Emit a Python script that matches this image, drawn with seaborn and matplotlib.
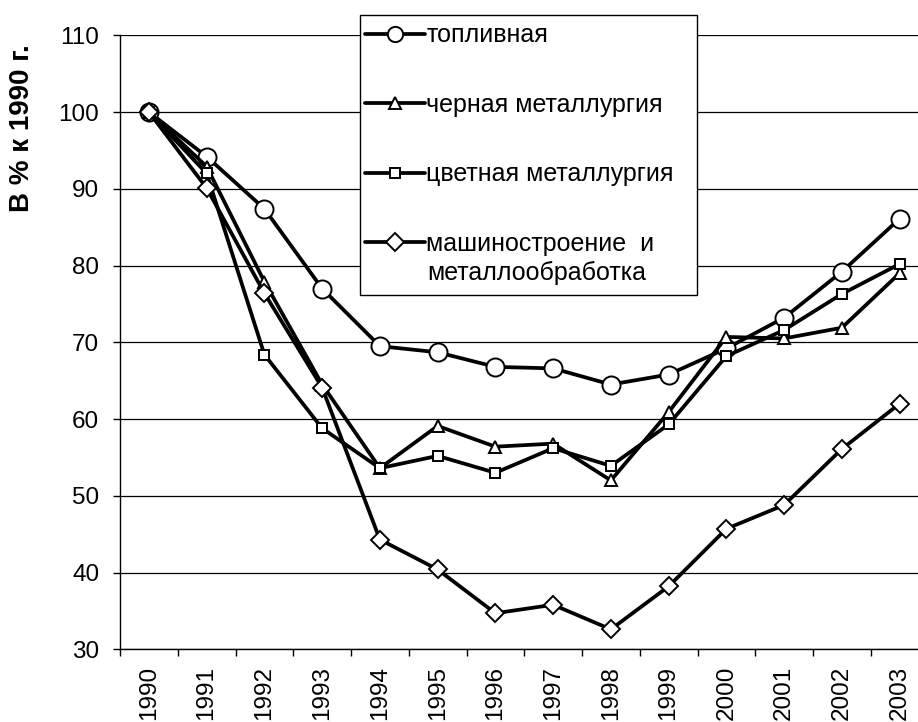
import numpy as np
import pandas as pd
import matplotlib
matplotlib.use("Agg")
import matplotlib.pyplot as plt
from matplotlib.patches import Rectangle
import seaborn as sns

years = ["1990", "1991", "1992", "1993", "1994", "1995", "1996",
         "1997", "1998", "1999", "2000", "2001", "2002", "2003"]
fuel = [100, 94.2, 87.4, 77.0, 69.5, 68.7, 66.8, 66.6, 64.5, 65.8, 69.2, 73.2, 79.2, 86.1]
ferrous = [100, 92.9, 77.9, 64.5, 53.6, 59.1, 56.4, 56.8, 52.0, 60.9, 70.7, 70.5, 71.9, 79.0]
nonferrous = [100, 92.0, 68.4, 58.8, 53.6, 55.2, 53.0, 56.2, 53.9, 59.3, 68.2, 71.6, 76.3, 80.2]
machinery = [100, 90.1, 76.4, 64.1, 44.3, 40.4, 34.7, 35.8, 32.6, 38.2, 45.7, 48.8, 56.1, 62.0]

labels = ["топливная", "черная металлургия", "цветная металлургия",
          "машиностроение  и"]
label_cont = "металлообработка"
series = [fuel, ferrous, nonferrous, machinery]
markers = ["o", "^", "s", "D"]
msizes = [13, 9, 7.5, 9.5]
leg_msizes = [11, 8, 7, 9.5]
yticks = [30, 40, 50, 60, 70, 80, 90, 100, 110]
ylabel = "В % к 1990 г."

sns.set_theme(style="white")
plt.rcParams["font.family"] = ["Liberation Sans", "DejaVu Sans"]
plt.rcParams["text.color"] = "black"
plt.rcParams["axes.labelcolor"] = "black"
plt.rcParams["xtick.color"] = "black"
plt.rcParams["ytick.color"] = "black"

W, H = 918, 722
fig = plt.figure(figsize=(W / 100, H / 100), dpi=100)
ax = fig.add_axes([120 / W, 1 - 649.3 / H, 808.5 / W, 614 / H])

for vals, lab, mk, ms in zip(series, labels, markers, msizes):
    df = pd.DataFrame({"year": years, "value": vals})
    sns.lineplot(data=df, x="year", y="value", ax=ax, color="black",
                 linewidth=2.7, marker=mk, markersize=ms,
                 markerfacecolor="white", markeredgecolor="black",
                 markeredgewidth=1.4, label=lab, legend=False, zorder=3)

ax.set_xlim(-0.5, 13.5)
ax.set_ylim(30, 110)
ax.set_yticks(yticks)
ax.set_yticklabels([str(t) for t in yticks])
ax.grid(False)
ax.yaxis.grid(True, color="black", linewidth=0.9)
ax.set_axisbelow(True)

for s in ["top", "right"]:
    ax.spines[s].set_visible(False)
for s in ["left", "bottom"]:
    ax.spines[s].set_color("black")
    ax.spines[s].set_linewidth(1.0)

ax.set_xticks(range(len(years)))
ax.set_xticklabels(years, rotation=90, va="top", ha="center")
ax.set_xticks(np.arange(-0.5, 13.0, 1.0), minor=True)
ax.tick_params(axis="x", which="major", length=0, pad=12, labelsize=17.5,
               colors="black", labelcolor="black")
ax.tick_params(axis="x", which="minor", length=5, width=1.0, direction="out",
               color="black", bottom=True)
ax.tick_params(axis="y", which="major", length=5, width=1.0, direction="out", pad=10,
               labelsize=17.5, color="black", labelcolor="black", left=True)
ax.set_xlabel("")
ax.set_ylabel(ylabel, fontsize=20, fontweight="bold", ha="center", va="center",
              color="black")
ax.yaxis.set_label_coords((22 - 120) / 808.5, (649.3 - 128) / 614)

# legend box
rect = Rectangle((360 / W, 1 - 295 / H), 337 / W, 280 / H, transform=fig.transFigure,
                 facecolor="white", edgecolor="black", linewidth=1.0, zorder=10)
fig.add_artist(rect)

h, l = ax.get_legend_handles_labels()
leg = fig.legend(h, l, loc="upper left", bbox_to_anchor=(365 / W, 1 - 23.5 / H),
                 bbox_transform=fig.transFigure, frameon=False, fontsize=18,
                 handlelength=2.4, handletextpad=0.05, labelspacing=1.82,
                 borderpad=0, borderaxespad=0, labelcolor="black")
leg.set_zorder(11)
for hd, ms in zip(leg.legend_handles, leg_msizes):
    hd.set_markersize(ms)
    hd.set_linewidth(2.7)

fig.text(427 / W, 1 - 273 / H, label_cont, fontsize=18, ha="left", va="center",
         zorder=12, color="black")

fig.savefig("out.png", dpi=100)
